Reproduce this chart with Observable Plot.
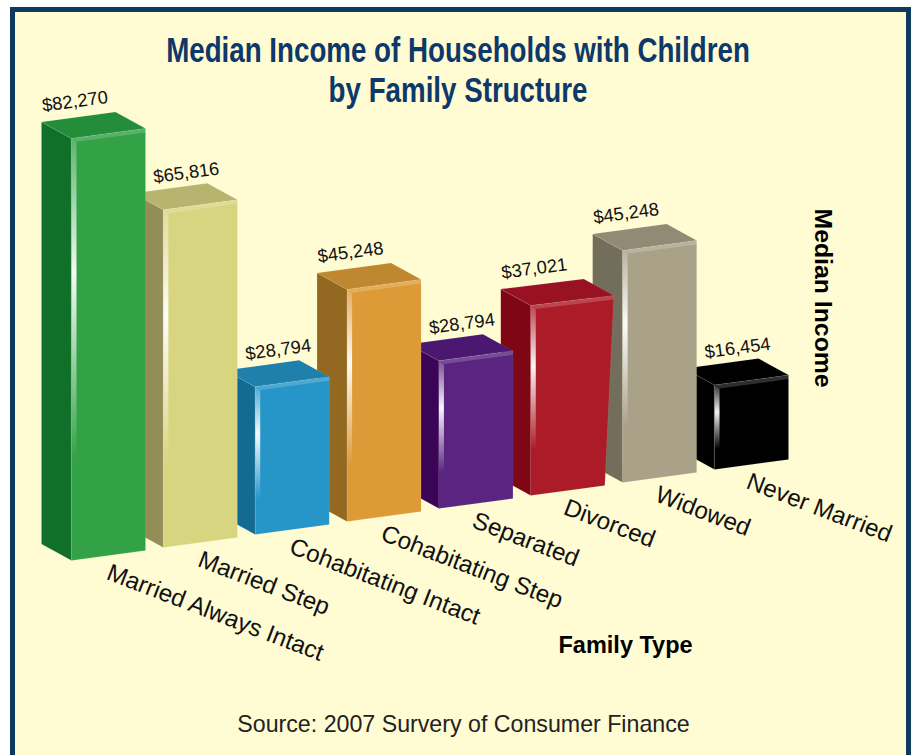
<!DOCTYPE html>
<html><head><meta charset="utf-8">
<script src="https://cdn.jsdelivr.net/npm/d3@7"></script>
<script src="https://cdn.jsdelivr.net/npm/@observablehq/plot@0.6"></script>
<style>
html,body{margin:0;padding:0;background:#fff;width:911px;height:755px;overflow:hidden}
#frame{position:absolute;left:10px;top:7px;width:901px;height:760px;box-sizing:border-box;border:5px solid #0f3a5f;background:#fffbd3}
#chart{position:absolute;left:0;top:0}
#title{position:absolute;left:0;top:30px;width:916px;text-align:center;color:#0d3869;font:bold 35px/40px "Liberation Sans",sans-serif;transform:scaleX(.792);transform-origin:458px 0}
#source{position:absolute;left:0;top:711px;width:927px;text-align:center;color:#222;font:23.2px "Liberation Sans",sans-serif}
</style></head><body>
<div id="frame"></div>
<div id="chart"></div>
<div id="title">Median Income of Households with Children<br>by Family Structure</div>
<div id="source">Source: 2007 Survery of Consumer Finance</div>
<script>
const families = ["Married Always Intact","Married Step","Cohabitating Intact","Cohabitating Step","Separated","Divorced","Widowed","Never Married"];
const incomes = [82270,65816,28794,45248,28794,37021,45248,16454];
const frontColors = ["#33a246","#d8d581","#2696c9","#dd9b37","#5a2580","#ac1b28","#aaa189","#000000"];
const sideColors = ["#107029","#938e58","#136a92","#936921","#3b0457","#7f0614","#736d5c","#000000"];
const topColors = ["#248d3b","#b8b470","#1f80ac","#bf8730","#4a1870","#981223","#918a75","#000000"];

// Oblique projection, in units of the two scales: x in bar slots, y in dollars.
const slotPx = 91.86, dollarPx = 0.00513;
const baseRise = 13 / dollarPx;        // floor climbs from slot to slot
const barWidth = 74 / slotPx, widthRise = 10 / dollarPx;
const depthX = -30 / slotPx, depthRise = 16.5 / dollarPx;
const stripW = 5 / slotPx, bandH = 4 / dollarPx;
const flaredBar = "Divorced", flare = 9 / slotPx; // that bar's top is drawn wider than its foot

const faces = [], strips = [], bands = [];
const bars = families.map((name, i) => ({name, i, v: incomes[i], base: i * baseRise, peak: i * baseRise + incomes[i]}));
const poly = (list, id, fill, pts) => pts.forEach(([x, y]) => list.push({id, fill, x, y}));
for (const b of [...bars].reverse()) {
  const {i, base, peak, name} = b, f = name === flaredBar ? flare : 0;
  poly(faces, `s${i}`, sideColors[i], [[i + depthX, base + depthRise], [i, base], [i, peak], [i + depthX, peak + depthRise]]);
  poly(faces, `t${i}`, topColors[i], [[i, peak], [i + barWidth + f, peak + widthRise], [i + barWidth + f + depthX, peak + widthRise + depthRise], [i + depthX, peak + depthRise]]);
  poly(faces, `f${i}`, frontColors[i], [[i, base], [i + barWidth, base + widthRise], [i + barWidth + f, peak + widthRise], [i, peak]]);
  poly(strips, `h${i}`, "", [[i, peak], [i + stripW, peak - bandH], [i + stripW, peak - 0.76 * b.v], [i, peak - 0.76 * b.v]]);
  poly(bands, `b${i}`, "", [[i, peak], [i + barWidth + f, peak + widthRise], [i + barWidth + f, peak + widthRise - bandH], [i + stripW, peak + widthRise * stripW / barWidth - bandH]]);
}
const prevTaller = b => b.i > 0 && incomes[b.i - 1] > b.v;
const valueLabels = bars.map(b => ({
  text: "$" + d3.format(",")(b.v),
  x: b.i + barWidth + depthX - (prevTaller(b) ? 21 : 40.5) / slotPx,
  y: b.peak + widthRise + depthRise + 10.5 / dollarPx
}));
const catLabels = bars.map(b => ({text: b.name, x: b.i * 0.995 + 36.5 / slotPx, y: b.base - 11 / dollarPx}));

const plot = Plot.plot({
  width: 911, height: 755, margin: 0,
  style: {background: "transparent", overflow: "visible"},
  x: {domain: [-71 / slotPx, (911 - 71) / slotPx], range: [0, 911], axis: null},
  y: {domain: [(560 - 755) / dollarPx, 560 / dollarPx], range: [755, 0], axis: null},
  color: {type: "identity"},
  marks: [
    () => {
      const d = d3.create("svg:defs");
      d.html(`<linearGradient id="hl" x1="0" y1="0" x2="0" y2="1">
        <stop offset="0" stop-color="#fff" stop-opacity=".2"/>
        <stop offset=".42" stop-color="#fff" stop-opacity=".95"/>
        <stop offset="1" stop-color="#fff" stop-opacity="0"/></linearGradient>`);
      return d.node();
    },
    Plot.line(faces, {x: "x", y: "y", z: "id", fill: "fill", stroke: "#fff", strokeOpacity: 0.15, strokeWidth: 0.5, curve: "linear-closed"}),
    Plot.line(bands, {x: "x", y: "y", z: "id", fill: "#fff", fillOpacity: 0.18, stroke: "none", curve: "linear-closed"}),
    Plot.line(strips, {x: "x", y: "y", z: "id", fill: "url(#hl)", stroke: "none", curve: "linear-closed"}),
    Plot.text(valueLabels, {x: "x", y: "y", text: "text", rotate: -7.5, fontSize: 18.3, fill: "#111", fontFamily: "Liberation Sans"}),
    Plot.text(catLabels, {x: "x", y: "y", text: "text", rotate: 21, textAnchor: "start", fontSize: 24.2, fill: "#111", fontFamily: "Liberation Sans"}),
    Plot.text(["Family Type"], {frameAnchor: "top-left", dx: 558, dy: 636, fontSize: 23.5, fontWeight: "bold", fill: "#000", fontFamily: "Liberation Sans"}),
    Plot.text(["Median Income"], {frameAnchor: "top-left", dx: 832, dy: 208, rotate: 90, fontSize: 24.8, fontWeight: "bold", fill: "#000", fontFamily: "Liberation Sans"})
  ]
});
document.getElementById("chart").append(plot);
</script>
</body></html>
